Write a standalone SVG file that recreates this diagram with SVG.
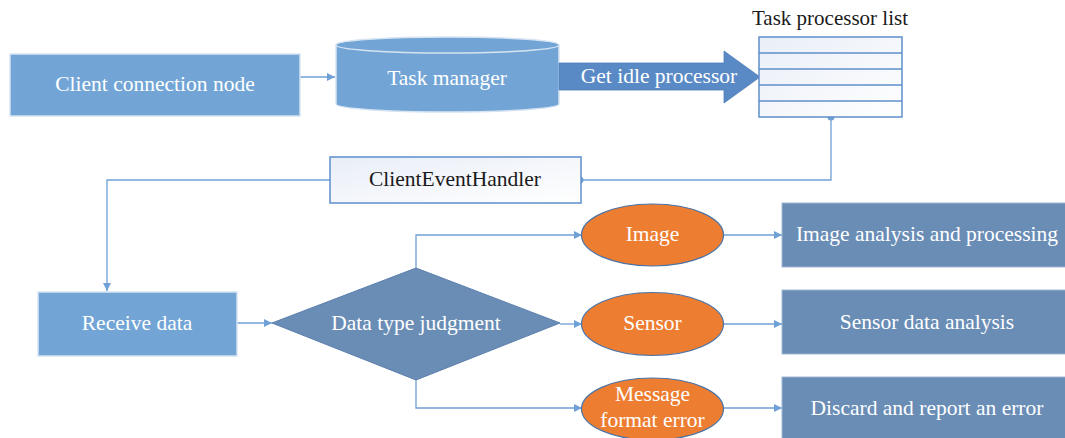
<svg xmlns="http://www.w3.org/2000/svg" width="1065" height="438" viewBox="0 0 1065 438">
  <defs>
    <marker id="arrow" viewBox="0 0 10 10" refX="10" refY="5" markerWidth="8" markerHeight="8" markerUnits="userSpaceOnUse" orient="auto">
      <path d="M0,0 L10,5 L0,10 z" fill="#6FA0D6"/>
    </marker>
    <linearGradient id="paleFill" x1="0" y1="0" x2="1" y2="1">
      <stop offset="0" stop-color="#E9EEF7"/>
      <stop offset="1" stop-color="#FFFFFF"/>
    </linearGradient>
    <style>
      .lbl { font-family: "Liberation Serif", "Times New Roman", serif; font-size: 21.5px; text-anchor: middle; }
      .w { fill: #FFFFFF; }
      .k { fill: #1A1A1A; }
      .light { fill: #72A5D6; stroke: #D6E3F1; stroke-width: 1.5; }
      .dark { fill: #6A8DB6; stroke: #9FB7D3; stroke-width: 1; }
      .oval { fill: #ED7D31; stroke: #4A74A8; stroke-width: 1.2; }
      .outline { fill: url(#paleFill); stroke: #5E8FCA; stroke-width: 1.5; }
      .conn { fill: none; stroke: #6FA0D6; stroke-width: 1.3; }
      .dot { fill: #6FA0D6; }
    </style>
  </defs>

  <!-- connectors -->
  <g id="connectors">
    <line class="conn" x1="300" y1="77" x2="335" y2="77" marker-end="url(#arrow)"/>
    <polyline class="conn" points="831,117 831,180 580,180"/>
    <circle class="dot" cx="831" cy="117" r="3.5"/>
    <circle class="dot" cx="580" cy="180" r="3.5"/>
    <polyline class="conn" points="330,180 107,180 107,291" marker-end="url(#arrow)"/>
    <line class="conn" x1="237" y1="323" x2="272" y2="323" marker-end="url(#arrow)"/>
    <polyline class="conn" points="416,268 416,235 582,235" marker-end="url(#arrow)"/>
    <line class="conn" x1="560" y1="324" x2="582" y2="324" marker-end="url(#arrow)"/>
    <polyline class="conn" points="416,380 416,408 582,408" marker-end="url(#arrow)"/>
    <line class="conn" x1="723" y1="235" x2="782" y2="235" marker-end="url(#arrow)"/>
    <line class="conn" x1="723" y1="324" x2="782" y2="324" marker-end="url(#arrow)"/>
    <line class="conn" x1="723" y1="408" x2="782" y2="408" marker-end="url(#arrow)"/>
  </g>

  <!-- client connection node -->
  <g id="client-node">
    <rect class="light" x="10" y="54" width="290" height="62"/>
    <text class="lbl w" x="155" y="91">Client connection node</text>
  </g>

  <!-- task manager cylinder -->
  <g id="task-manager">
    <path class="light" d="M336,45 L336,104 A111.5,8 0 0 0 559,104 L559,45 A111.5,8 0 0 0 336,45 Z"/>
    <path d="M336,45 A111.5,8 0 0 0 559,45" fill="none" stroke="#D6E3F1" stroke-width="1.5"/>
    <text class="lbl w" x="447" y="85">Task manager</text>
  </g>

  <!-- get idle processor arrow -->
  <g id="get-idle">
    <path d="M559,63 L724,63 L724,51 L760,77 L724,103 L724,90 L559,90 Z" fill="#5A8AC6" stroke="#4E7EB8" stroke-width="0.8"/>
    <text class="lbl w" x="659" y="83">Get idle processor</text>
  </g>

  <!-- task processor list -->
  <g id="processor-list">
    <text class="lbl k" x="830" y="25" style="font-size:21px">Task processor list</text>
    <rect class="outline" x="759" y="37" width="143" height="80"/>
    <line x1="759" y1="53" x2="902" y2="53" stroke="#5E8FCA" stroke-width="1.3"/>
    <line x1="759" y1="69" x2="902" y2="69" stroke="#5E8FCA" stroke-width="1.3"/>
    <line x1="759" y1="85" x2="902" y2="85" stroke="#5E8FCA" stroke-width="1.3"/>
    <line x1="759" y1="101" x2="902" y2="101" stroke="#5E8FCA" stroke-width="1.3"/>
  </g>

  <!-- client event handler -->
  <g id="event-handler">
    <rect class="outline" x="330" y="157" width="251" height="46"/>
    <text class="lbl k" x="455" y="186">ClientEventHandler</text>
  </g>

  <!-- receive data -->
  <g id="receive-data">
    <rect class="light" x="38" y="292" width="199" height="64"/>
    <text class="lbl w" x="137" y="330">Receive data</text>
  </g>

  <!-- decision -->
  <g id="type-judgment">
    <polygon points="272,323 416,268 560,323 416,380" fill="#6A8DB6" stroke="#5A7FAD" stroke-width="1"/>
    <text class="lbl w" x="416" y="330">Data type judgment</text>
  </g>

  <!-- data types -->
  <g id="type-image">
    <ellipse class="oval" cx="652.5" cy="235" rx="71" ry="31"/>
    <text class="lbl w" x="652.5" y="241">Image</text>
  </g>
  <g id="type-sensor">
    <ellipse class="oval" cx="652.5" cy="324" rx="71" ry="31.5"/>
    <text class="lbl w" x="652.5" y="330">Sensor</text>
  </g>
  <g id="type-error">
    <ellipse class="oval" cx="652.5" cy="409" rx="71" ry="31"/>
    <text class="lbl w" x="652.5" y="401">Message</text>
    <text class="lbl w" x="652.5" y="427">format error</text>
  </g>

  <!-- handlers -->
  <g id="image-analysis">
    <rect class="dark" x="782" y="203" width="290" height="64"/>
    <text class="lbl w" x="927" y="241">Image analysis and processing</text>
  </g>
  <g id="sensor-analysis">
    <rect class="dark" x="782" y="290" width="290" height="64"/>
    <text class="lbl w" x="927" y="329">Sensor data analysis</text>
  </g>
  <g id="discard-error">
    <rect class="dark" x="782" y="377" width="290" height="70"/>
    <text class="lbl w" x="927" y="415">Discard and report an error</text>
  </g>
</svg>
